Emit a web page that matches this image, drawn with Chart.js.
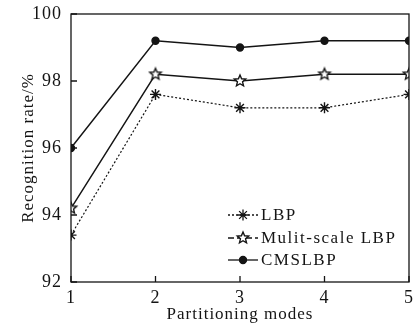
<!DOCTYPE html>
<html>
<head>
<meta charset="utf-8">
<script src="https://cdn.jsdelivr.net/npm/chart.js@4/dist/chart.umd.min.js"></script>
<style>
  html, body { margin: 0; padding: 0; background: #fff; }
  #wrap { width: 419px; height: 327px; }
</style>
</head>
<body>
<div id="wrap"><canvas id="c" width="419" height="327"></canvas></div>
<script>
// data
const modes      = [1, 2, 3, 4, 5];
const lbp        = [93.4, 97.6, 97.2, 97.2, 97.6];
const multiScale = [94.2, 98.2, 98.0, 98.2, 98.2];
const cmslbp     = [96.0, 99.2, 99.0, 99.2, 99.2];
const yTicks     = [92, 94, 96, 98, 100];

const INK = '#141414';
const FONT = "'Liberation Serif', 'DejaVu Serif', serif";

// hollow five-point star marker
function starImg(r) {
  const s = r * 2 + 4, c = document.createElement('canvas');
  c.width = s; c.height = s;
  const g = c.getContext('2d');
  g.beginPath();
  for (let i = 0; i < 10; i++) {
    const rr = i % 2 ? r * 0.45 : r, a = -Math.PI / 2 + i * Math.PI / 5;
    g.lineTo(s / 2 + rr * Math.cos(a), s / 2 + rr * Math.sin(a));
  }
  g.closePath();
  g.fillStyle = '#fff'; g.fill();
  g.lineWidth = 1.4; g.strokeStyle = INK; g.stroke();
  return c;
}
const hollowStar = starImg(6);

const legendDash = [[2, 2], [6, 3], []];

// wide typesetting like the printed figure
const spacing = {
  id: 'spacing',
  beforeDraw(chart) { chart.ctx.letterSpacing = '1px'; }
};

// frame, inward ticks and legend inside the plot
const frame = {
  id: 'frame',
  afterDraw(chart) {
    const { ctx, chartArea: a, scales: { x, y } } = chart;
    ctx.save();
    ctx.strokeStyle = INK; ctx.lineWidth = 1.3;
    ctx.strokeRect(a.left, a.top, a.right - a.left, a.bottom - a.top);
    ctx.beginPath();
    yTicks.forEach(v => { const p = y.getPixelForValue(v); ctx.moveTo(a.left, p); ctx.lineTo(a.left + 6, p); });
    modes.forEach(v => { const p = x.getPixelForValue(v); ctx.moveTo(p, a.bottom); ctx.lineTo(p, a.bottom - 6); });
    ctx.stroke();

    // legend
    ctx.font = '17px ' + FONT;
    ctx.letterSpacing = '1.5px';
    ctx.fillStyle = INK; ctx.textBaseline = 'middle'; ctx.textAlign = 'left';
    const lx = 228, rows = [215, 238, 260];
    chart.data.datasets.forEach((ds, i) => {
      const yy = rows[i];
      ctx.setLineDash(legendDash[i]);
      ctx.lineWidth = 1.3;
      ctx.beginPath(); ctx.moveTo(lx, yy); ctx.lineTo(lx + 30, yy); ctx.stroke();
      ctx.setLineDash([]);
      Chart.helpers.drawPoint(ctx, { pointStyle: ds.pointStyle, radius: ds.pointRadius, borderWidth: ds.pointBorderWidth || 1.3 }, lx + 15, yy);
      if (ds.pointStyle === 'circle') { ctx.fill(); }
      ctx.fillText(ds.label, lx + 33, yy + 1);
    });
    ctx.restore();
  }
};

new Chart(document.getElementById('c'), {
  type: 'line',
  data: {
    datasets: [
      { label: 'LBP', data: modes.map((m, i) => ({ x: m, y: lbp[i] })),
        borderColor: INK, borderWidth: 1.2, borderDash: [2, 2],
        pointStyle: 'star', pointRadius: 5.5, pointBorderWidth: 1.4,
        pointBorderColor: INK, pointBackgroundColor: INK },
      { label: 'Mulit-scale LBP', data: modes.map((m, i) => ({ x: m, y: multiScale[i] })),
        borderColor: INK, borderWidth: 1.4,
        pointStyle: hollowStar, pointRadius: 6 },
      { label: 'CMSLBP', data: modes.map((m, i) => ({ x: m, y: cmslbp[i] })),
        borderColor: INK, borderWidth: 1.4,
        pointStyle: 'circle', pointRadius: 3.5,
        pointBorderColor: INK, pointBackgroundColor: INK }
    ]
  },
  options: {
    responsive: false, animation: false,
    layout: { padding: { top: 14, right: 10, left: 18, bottom: 0 } },
    plugins: { legend: { display: false }, tooltip: { enabled: false } },
    scales: {
      x: {
        type: 'linear', min: 1, max: 5,
        afterBuildTicks: s => { s.ticks = modes.map(v => ({ value: v })); },
        afterFit: s => { s.height = 45; },
        grid: { display: false }, border: { display: false },
        ticks: { color: INK, padding: -3, font: { family: FONT, size: 18 } },
        title: { display: true, text: 'Partitioning modes', color: INK, padding: { top: 0, bottom: 2 },
                 font: { family: FONT, size: 17 } }
      },
      y: {
        min: 92, max: 100,
        afterBuildTicks: s => { s.ticks = yTicks.map(v => ({ value: v })); },
        afterFit: s => { s.width = 53; },
        grid: { display: false }, border: { display: false },
        ticks: { color: INK, padding: 1, font: { family: FONT, size: 18 } },
        title: { display: true, text: 'Recognition rate/%', color: INK, padding: 0,
                 font: { family: FONT, size: 17 } }
      }
    }
  },
  plugins: [spacing, frame]
});
</script>
</body>
</html>
